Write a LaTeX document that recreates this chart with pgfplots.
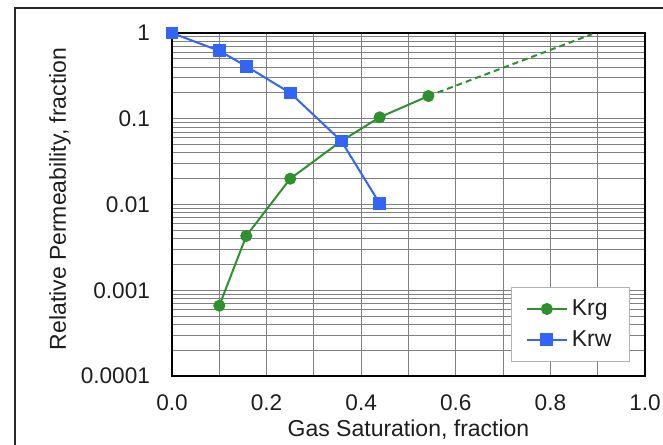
\documentclass[border=0pt]{standalone}
\usepackage{pgfplots}
\pgfplotsset{compat=1.18}
\usepackage{fontspec}
\setmainfont{Liberation Sans}
\definecolor{krg}{RGB}{46,145,46}
\definecolor{krw}{RGB}{50,100,250}
\definecolor{txt}{RGB}{30,30,30}
\begin{document}
\begin{tikzpicture}
\begin{axis}[
  at={(0pt,0pt)}, anchor=south west,
  scale only axis, width=236.5pt, height=171.5pt,
  xmin=0, xmax=1, ymode=log, ymin=0.0001, ymax=1,
  log basis y=10,
  xtick={0,0.2,0.4,0.6,0.8,1},
  xticklabels={0.0,0.2,0.4,0.6,0.8,1.0},
  minor xtick={0.1,0.3,0.5,0.7,0.9},
  ytick={0.0001,0.001,0.01,0.1,1},
  yticklabels={0.0001,0.001,0.01,0.1,1},
  minor ytick={0.0002,0.0003,0.0004,0.0005,0.0006,0.0007,0.0008,0.0009,
    0.002,0.003,0.004,0.005,0.006,0.007,0.008,0.009,
    0.02,0.03,0.04,0.05,0.06,0.07,0.08,0.09,
    0.2,0.3,0.4,0.5,0.6,0.7,0.8,0.9},
  xmajorgrids, xminorgrids, ymajorgrids, yminorgrids,
  major grid style={black!50, line width=0.5pt},
  minor grid style={black!50, line width=0.5pt},
  major tick length=0pt, minor tick length=0pt,
  axis line style={black, line width=1.3pt},
  tick label style={font=\fontsize{11.3}{13}\selectfont, text=txt},
  xticklabel style={yshift=-6pt},
  yticklabel style={xshift=-7.5pt},
  label style={font=\fontsize{11.5}{13}\selectfont, text=txt},
  xlabel={Gas Saturation, fraction},
  ylabel={Relative Permeability, fraction},
  every axis x label/.append style={at={(axis description cs:0.5,-0.157)}, anchor=center},
  every axis y label/.append style={at={(axis description cs:-0.237,0.516)}, anchor=center},
  legend style={at={(axis description cs:0.968,0.259)}, anchor=north east,
    draw=gray!60, fill=white, font=\fontsize{11.5}{13}\selectfont, text=txt,
    row sep=2pt, inner xsep=7pt, inner ysep=4pt,
    legend image code/.code={\draw[#1] (0pt,0pt) -- (20pt,0pt); \draw[#1, mark repeat=2, mark phase=2] plot coordinates {(0pt,0pt) (10pt,0pt) (20pt,0pt)};}},
  legend cell align=left,
  clip=false,
]
\addplot[krg, line width=1pt, dashed, dash pattern=on 3pt off 2pt, forget plot] coordinates {
  (0.542,0.184) (0.888,0.97)
};
\addplot[krg, line width=1pt, mark=*, mark size=2.5pt, mark options={solid}] coordinates {
  (0.1,0.00066) (0.157,0.0043) (0.25,0.020) (0.358,0.055) (0.439,0.104) (0.542,0.184)
};
\addlegendentry{Krg}
\addplot[krw, line width=1pt, mark=square*, mark size=2.7pt, mark options={solid}] coordinates {
  (0,1) (0.1,0.62) (0.157,0.41) (0.25,0.20) (0.358,0.055) (0.439,0.0103)
};
\addlegendentry{Krw}
\end{axis}
\draw[line width=0.8pt, gray!30!black] (-78.5pt,-40pt) -- (-78.5pt,184pt) -- (250pt,184pt);
\pgfresetboundingbox
\useasboundingbox (-86pt,-34pt) rectangle (245.5pt,188pt);
\end{tikzpicture}
\end{document}
